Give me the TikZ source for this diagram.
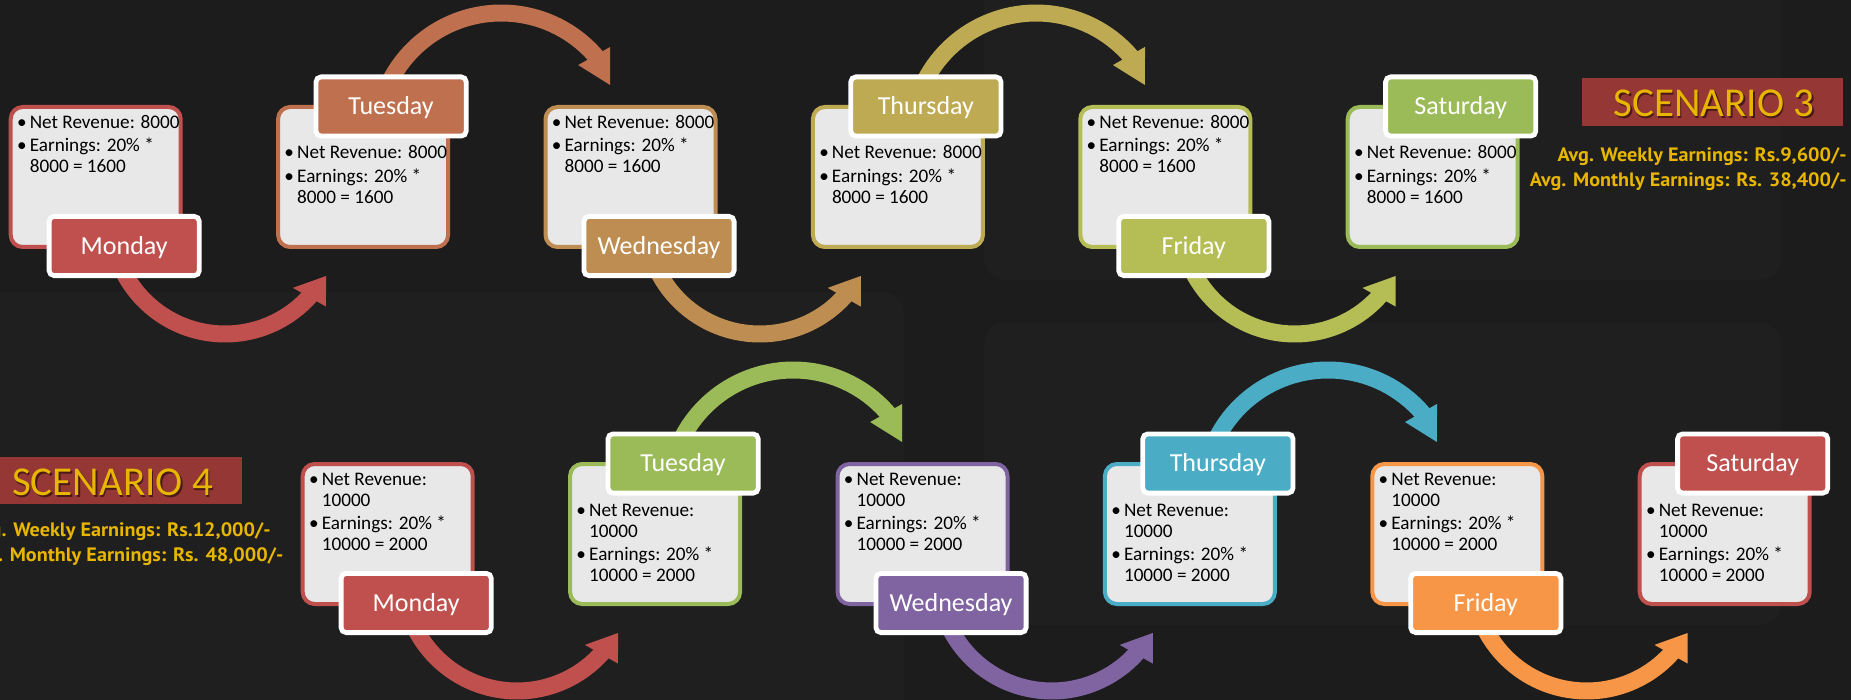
\documentclass[tikz,border=0pt]{standalone}
\usepackage{fontspec}
\setmainfont{Carlito}
\newfontfamily\sumfont[FakeStretch=1.04]{PT Sans}
\definecolor{bgc}{HTML}{1C1C1C}
\definecolor{panelc}{HTML}{1F1F1F}
\definecolor{cred}{HTML}{C0504D}
\definecolor{ctue}{HTML}{BF704F}
\definecolor{cwed}{HTML}{BE8D51}
\definecolor{cthu}{HTML}{BEAA53}
\definecolor{cfri}{HTML}{B5BD55}
\definecolor{cgreen}{HTML}{9BBB59}
\definecolor{cpurple}{HTML}{8064A2}
\definecolor{cteal}{HTML}{4BACC6}
\definecolor{corange}{HTML}{F79646}
\definecolor{boxfill}{HTML}{E8E8E8}
\definecolor{titlered}{HTML}{953735}
\definecolor{gold}{HTML}{E8B600}
\definecolor{goldshadow}{HTML}{4A1A18}
\newcommand{\bul}{\llap{•\hspace{1.6pt}}}
\newcommand{\txtA}{\begin{tabular}[t]{@{}l@{}}\bul Net Revenue: 8000\\[1.25pt]\bul Earnings: 20\% *\\ 8000 = 1600\end{tabular}}
\newcommand{\txtB}{\begin{tabular}[t]{@{}l@{}}\bul Net Revenue:\\ 10000\\[1.25pt]\bul Earnings: 20\% *\\ 10000 = 2000\end{tabular}}
\newcommand{\botarrow}[3]{%
  \draw[line width=8.5pt,#3] plot[domain=160:41,samples=50,variable=\t] ({#1+114*cos(\t)},{#2+114*sin(\t)});
  \fill[#3] ({#1+96*cos(45)},{#2+96*sin(45)}) -- ({#1+115.5*cos(29)},{#2+115.5*sin(29)}) -- ({#1+133*cos(40.6)},{#2+133*sin(40.6)}) -- cycle;}
\newcommand{\toparrow}[3]{%
  \draw[line width=8.5pt,#3] plot[domain=195:320,samples=50,variable=\t] ({#1+125*cos(\t)},{#2+125*sin(\t)});
  \fill[#3] ({#1+106*cos(316.5)},{#2+106*sin(316.5)}) -- ({#1+121*cos(334)},{#2+121*sin(334)}) -- ({#1+142*cos(320.1)},{#2+142*sin(320.1)}) -- cycle;}
\newcommand{\botitem}[6]{%
  \node[contentbox=#4] (#1box) at ({#2+87},{#3+177}) {};
  \node[daylabel=#4] (#1lab) at ({#2+115.5},{#3+246}) {#5};
  \node[bodytext] (#1txt) at ({#2+20.7},{#3+128.3}) {#6};}
\newcommand{\topitem}[6]{%
  \node[contentbox=#4] (#1box) at ({#2+87},{#3+177}) {};
  \node[daylabel=#4] (#1lab) at ({#2+115},{#3+106.5}) {#5};
  \node[bodytext] (#1txt) at ({#2+20.7},{#3+159}) {#6};}
\begin{document}
\begin{tikzpicture}[x=0.5pt,y=-0.5pt,
  contentbox/.style={draw=#1, fill=boxfill, line width=2pt, rounded corners=6pt, minimum width=85pt, minimum height=70pt, inner sep=0pt},
  daylabel/.style={fill=#1, draw=white, line width=2.4pt, rounded corners=2.5pt, minimum width=75.1pt, minimum height=29.6pt, inner sep=0pt, text=white, font=\fontsize{13}{15}\selectfont, text height=8.2pt, text depth=0pt},
  bodytext/.style={anchor=base west, inner sep=0pt, text=black, font=\fontsize{9.6}{10.5}\selectfont},
  titlebox/.style={fill=titlered, minimum width=130.8pt, minimum height=23.7pt, inner sep=0pt},
  titletext/.style={anchor=base, inner sep=0pt, font=\fontsize{20.5}{24}\selectfont, text=gold},
  sumtext/.style={anchor=base east, inner sep=0pt, font=\sumfont\bfseries\fontsize{9.7}{11}\selectfont, text=gold}]
\useasboundingbox (0,0) rectangle (1851,700);
\clip (0,0) rectangle (1851,700);
\fill[bgc] (0,0) rectangle (1851,700);
% faint slide panels
\fill[panelc, rounded corners=11pt] (-40,292) rectangle (904,740);
\fill[panelc, rounded corners=11pt] (984,-40) rectangle (1781,280);
\fill[panelc, rounded corners=11pt] (984,322) rectangle (1781,625);
% arrows row 1
\botarrow{225}{220}{cred}
\toparrow{501.3}{138}{ctue}
\botarrow{759.8}{220}{cwed}
\toparrow{1036.1}{138}{cthu}
\botarrow{1294.6}{220}{cfri}
% arrows row 2
\botarrow{517}{577}{cred}
\toparrow{793.3}{495}{cgreen}
\botarrow{1051.8}{577}{cpurple}
\toparrow{1328.1}{495}{cteal}
\botarrow{1586.6}{577}{corange}
% row 1 items
\botitem{mA}{8.7}{0}{cred}{Monday}{\txtA}
\topitem{tA}{276.1}{0}{ctue}{Tuesday}{\txtA}
\botitem{wA}{543.5}{0}{cwed}{Wednesday}{\txtA}
\topitem{hA}{810.9}{0}{cthu}{Thursday}{\txtA}
\botitem{fA}{1078.3}{0}{cfri}{Friday}{\txtA}
\topitem{sA}{1345.7}{0}{cgreen}{Saturday}{\txtA}
% row 2 items
\botitem{mB}{300.7}{357}{cred}{Monday}{\txtB}
\topitem{tB}{568.1}{357}{cgreen}{Tuesday}{\txtB}
\botitem{wB}{835.5}{357}{cpurple}{Wednesday}{\txtB}
\topitem{hB}{1102.9}{357}{cteal}{Thursday}{\txtB}
\botitem{fB}{1370.3}{357}{corange}{Friday}{\txtB}
\topitem{sB}{1637.7}{357}{cred}{Saturday}{\txtB}
% scenario 3
\node[titlebox] (s3box) at (1712.5,102) {};
\node[titletext, text=goldshadow] (s3sh) at (1715.5,118.7) {SCENARIO 3};
\node[titletext] (s3) at (1714,116.7) {SCENARIO 3};
\node[sumtext] (s3w) at (1847,161.7) {Avg. Weekly Earnings: Rs.9,600/-};
\node[sumtext] (s3m) at (1847,186.7) {Avg. Monthly Earnings: Rs. 38,400/-};
% scenario 4
\node[titlebox] (s4box) at (111.5,480.5) {};
\node[titletext, text=goldshadow] (s4sh) at (114,497.1) {SCENARIO 4};
\node[titletext] (s4) at (112.5,495.1) {SCENARIO 4};
\node[sumtext] (s4w) at (271,536.7) {Avg. Weekly Earnings: Rs.12,000/-};
\node[sumtext] (s4m) at (283.7,561.7) {Avg. Monthly Earnings: Rs. 48,000/-};
\end{tikzpicture}
\end{document}
